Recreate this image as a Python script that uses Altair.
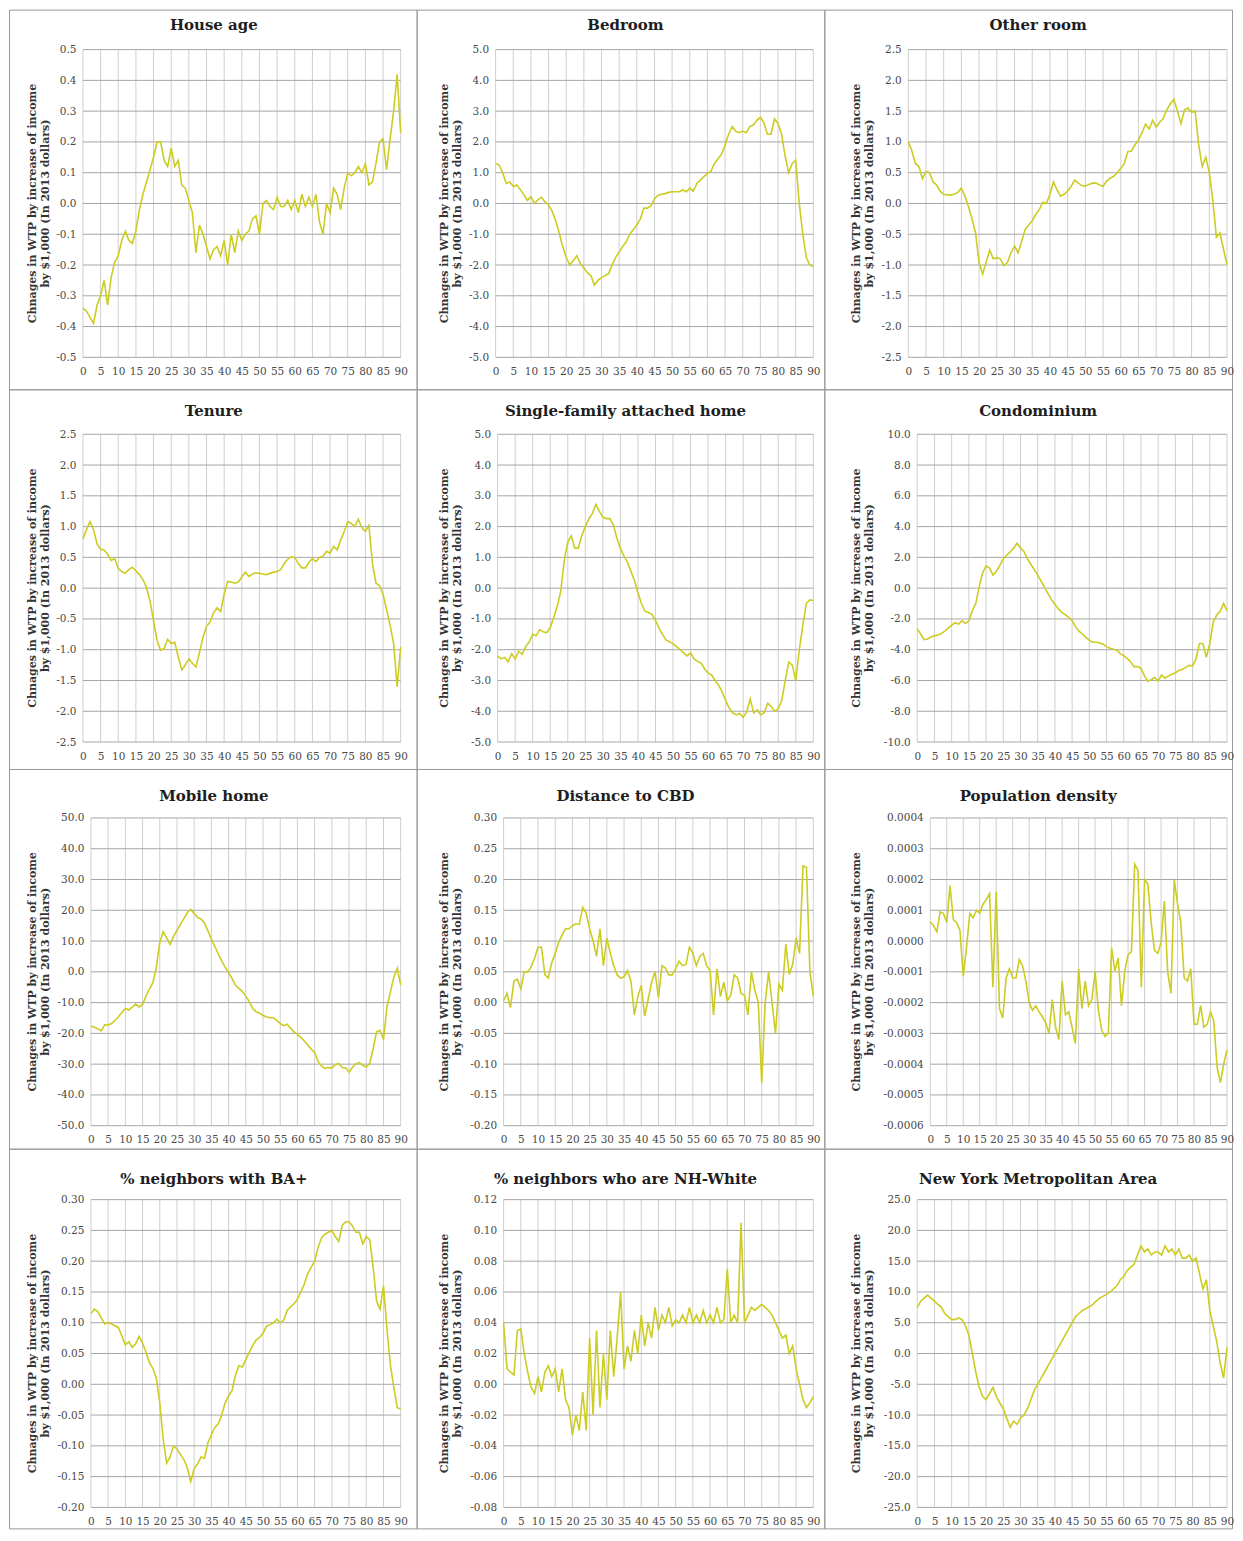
import altair as alt
import pandas as pd

# ---------------- data ----------------
X = list(range(0, 91))
X_TICKS = list(range(0, 91, 5))

TITLES = [
    "House age", "Bedroom", "Other room",
    "Tenure", "Single-family attached home", "Condominium",
    "Mobile home", "Distance to CBD", "Population density",
    "% neighbors with BA+", "% neighbors who are NH-White", "New York Metropolitan Area",
]

Y_TITLE = ["Chnages in WTP by increase of income", "by $1,000  (In 2013 dollars)"]

house_age = [-0.34, -0.35, -0.37, -0.39, -0.33, -0.30, -0.25, -0.33, -0.24, -0.19,
             -0.17, -0.12, -0.09, -0.12, -0.13, -0.09, -0.02, 0.03, 0.07, 0.11,
             0.15, 0.20, 0.20, 0.14, 0.12, 0.18, 0.12, 0.14, 0.06, 0.05,
             0.01, -0.03, -0.16, -0.07, -0.10, -0.14, -0.18, -0.15, -0.14, -0.17,
             -0.12, -0.20, -0.10, -0.16, -0.09, -0.12, -0.10, -0.09, -0.05, -0.04,
             -0.10, 0.00, 0.01, -0.01, -0.02, 0.02, -0.01, -0.01, 0.01, -0.02,
             0.01, -0.03, 0.03, -0.01, 0.02, -0.01, 0.03, -0.06, -0.10, 0.00,
             -0.03, 0.05, 0.03, -0.02, 0.05, 0.10, 0.09, 0.10, 0.12, 0.10,
             0.13, 0.06, 0.07, 0.13, 0.20, 0.21, 0.11, 0.21, 0.30, 0.42, 0.23]

bedroom = [1.30, 1.25, 1.00, 0.65, 0.70, 0.55, 0.60, 0.45, 0.28, 0.10,
           0.22, 0.00, 0.12, 0.20, 0.05, -0.05, -0.25, -0.55, -0.95, -1.40,
           -1.75, -2.00, -1.85, -1.70, -1.95, -2.10, -2.25, -2.35, -2.65, -2.50,
           -2.40, -2.35, -2.28, -2.00, -1.75, -1.58, -1.40, -1.25, -1.00, -0.85,
           -0.70, -0.50, -0.15, -0.15, -0.08, 0.15, 0.27, 0.30, 0.32, 0.36,
           0.38, 0.38, 0.38, 0.44, 0.38, 0.50, 0.40, 0.65, 0.76, 0.87,
           0.98, 1.05, 1.30, 1.45, 1.60, 1.90, 2.25, 2.50, 2.35, 2.30,
           2.35, 2.30, 2.50, 2.55, 2.70, 2.80, 2.62, 2.25, 2.25, 2.75,
           2.60, 2.25, 1.55, 1.00, 1.30, 1.40, 0.00, -1.00, -1.75, -2.00, -2.05]

other_room = [1.00, 0.86, 0.65, 0.60, 0.40, 0.52, 0.50, 0.35, 0.30, 0.20,
              0.15, 0.14, 0.14, 0.15, 0.18, 0.25, 0.12, -0.05, -0.25, -0.48,
              -0.96, -1.15, -0.95, -0.76, -0.90, -0.88, -0.90, -1.01, -0.96, -0.80,
              -0.69, -0.80, -0.62, -0.42, -0.35, -0.28, -0.18, -0.10, 0.02, 0.00,
              0.15, 0.35, 0.22, 0.12, 0.15, 0.20, 0.28, 0.38, 0.33, 0.29,
              0.28, 0.31, 0.33, 0.33, 0.30, 0.28, 0.36, 0.41, 0.44, 0.50,
              0.57, 0.65, 0.84, 0.85, 0.95, 1.03, 1.15, 1.29, 1.21, 1.35,
              1.24, 1.32, 1.38, 1.52, 1.62, 1.69, 1.50, 1.30, 1.52, 1.55,
              1.48, 1.50, 0.95, 0.60, 0.75, 0.50, 0.05, -0.55, -0.48, -0.74, -1.00]

tenure = [0.80, 0.95, 1.08, 0.95, 0.72, 0.63, 0.62, 0.55, 0.45, 0.48,
          0.32, 0.27, 0.24, 0.30, 0.34, 0.28, 0.22, 0.14, 0.01, -0.21,
          -0.53, -0.85, -1.01, -0.98, -0.83, -0.90, -0.88, -1.12, -1.33, -1.25,
          -1.15, -1.22, -1.28, -1.05, -0.80, -0.62, -0.55, -0.40, -0.32, -0.38,
          -0.10, 0.11, 0.10, 0.08, 0.10, 0.18, 0.26, 0.19, 0.23, 0.25,
          0.24, 0.23, 0.22, 0.24, 0.26, 0.27, 0.30, 0.40, 0.47, 0.51,
          0.50, 0.40, 0.33, 0.33, 0.42, 0.48, 0.43, 0.50, 0.52, 0.60,
          0.57, 0.68, 0.62, 0.78, 0.92, 1.08, 1.05, 1.00, 1.12, 0.98,
          0.92, 1.02, 0.40, 0.08, 0.04, -0.10, -0.35, -0.60, -0.90, -1.60, -0.96]

sfa_home = [-2.20, -2.30, -2.25, -2.40, -2.13, -2.30, -2.05, -2.15, -1.90, -1.75,
            -1.50, -1.55, -1.35, -1.42, -1.45, -1.28, -0.95, -0.60, -0.10, 0.90,
            1.50, 1.70, 1.30, 1.30, 1.72, 2.00, 2.25, 2.42, 2.72, 2.50,
            2.30, 2.26, 2.26, 2.05, 1.62, 1.30, 1.05, 0.85, 0.55, 0.25,
            -0.15, -0.50, -0.75, -0.79, -0.85, -1.05, -1.30, -1.50, -1.68, -1.74,
            -1.80, -1.90, -2.00, -2.10, -2.20, -2.10, -2.30, -2.38, -2.43, -2.62,
            -2.76, -2.82, -3.00, -3.15, -3.37, -3.65, -3.90, -4.05, -4.12, -4.07,
            -4.20, -4.02, -3.60, -4.06, -3.96, -4.12, -4.05, -3.74, -3.85, -4.00,
            -3.92, -3.65, -3.00, -2.40, -2.50, -3.00, -2.00, -1.20, -0.50, -0.38, -0.40]

condominium = [-2.66, -2.98, -3.35, -3.30, -3.18, -3.10, -3.05, -2.95, -2.80, -2.60,
               -2.40, -2.25, -2.34, -2.12, -2.30, -2.12, -1.45, -1.00, 0.10, 1.00,
               1.45, 1.30, 0.85, 1.10, 1.48, 1.90, 2.15, 2.35, 2.60, 2.92,
               2.60, 2.38, 1.90, 1.55, 1.20, 0.85, 0.45, 0.05, -0.35, -0.75,
               -1.05, -1.35, -1.58, -1.72, -1.90, -2.12, -2.50, -2.80, -2.98, -3.20,
               -3.40, -3.52, -3.52, -3.57, -3.65, -3.80, -3.90, -3.97, -4.03, -4.25,
               -4.40, -4.57, -4.80, -5.10, -5.10, -5.20, -5.70, -6.05, -5.95, -5.80,
               -6.05, -5.65, -5.85, -5.70, -5.60, -5.50, -5.35, -5.28, -5.15, -5.02,
               -5.05, -4.60, -3.60, -3.60, -4.50, -3.60, -2.20, -1.75, -1.50, -1.00, -1.48]

mobile_home = [-17.6, -18.0, -18.5, -19.2, -17.2, -17.3, -16.8, -15.8, -14.6, -13.2,
               -11.9, -12.4, -11.5, -10.5, -11.4, -10.6, -7.9, -5.5, -3.5, 1.5,
               9.5, 13.0, 11.0, 8.9, 11.5, 13.5, 15.5, 17.3, 19.2, 20.3,
               19.0, 17.6, 17.2, 15.8, 13.3, 10.6, 8.3, 5.8, 3.5, 1.5,
               -0.3, -2.1, -4.4, -5.4, -6.4, -7.9, -9.7, -11.9, -13.0, -13.4,
               -14.2, -14.6, -14.9, -14.9, -15.8, -16.8, -17.5, -17.0, -18.3, -19.5,
               -20.3, -21.3, -22.5, -23.8, -25.1, -26.2, -29.1, -30.6, -31.4, -31.1,
               -31.3, -30.2, -29.8, -31.1, -31.2, -32.6, -31.0, -29.9, -29.5, -30.4,
               -30.9, -29.8, -25.0, -19.5, -19.0, -22.0, -11.5, -6.6, -1.8, 1.2, -4.2]

distance_cbd = [0.003, 0.015, -0.008, 0.035, 0.038, 0.022, 0.050, 0.050, 0.058, 0.072,
                0.090, 0.090, 0.045, 0.040, 0.065, 0.080, 0.098, 0.110, 0.120, 0.120,
                0.125, 0.128, 0.127, 0.155, 0.145, 0.120, 0.100, 0.075, 0.120, 0.060,
                0.105, 0.080, 0.060, 0.045, 0.040, 0.042, 0.052, 0.035, -0.020, 0.010,
                0.028, -0.022, 0.005, 0.033, 0.050, 0.008, 0.060, 0.056, 0.045, 0.045,
                0.055, 0.067, 0.060, 0.062, 0.090, 0.080, 0.060, 0.075, 0.080, 0.060,
                0.052, -0.020, 0.055, 0.010, 0.033, 0.003, 0.012, 0.045, 0.040, 0.015,
                0.012, -0.020, 0.050, 0.020, 0.000, -0.130, 0.000, 0.050, 0.000, -0.050,
                0.030, 0.020, 0.095, 0.046, 0.062, 0.105, 0.080, 0.222, 0.220, 0.050, 0.010]

population_density = [0.000063, 0.000050, 0.000030, 0.000095, 0.000090, 0.000060, 0.000180, 0.000070, 0.000060, 0.000035,
                      -0.000115, -0.000020, 0.000090, 0.000075, 0.000100, 0.000090, 0.000120, 0.000135, 0.000154, -0.000150,
                      0.000160, -0.000220, -0.000250, -0.000120, -0.000090, -0.000120, -0.000120, -0.000060, -0.000080, -0.000130,
                      -0.000200, -0.000225, -0.000210, -0.000230, -0.000245, -0.000265, -0.000300, -0.000190, -0.000280, -0.000320,
                      -0.000130, -0.000240, -0.000230, -0.000280, -0.000333, -0.000090, -0.000220, -0.000130, -0.000210, -0.000190,
                      -0.000100, -0.000226, -0.000290, -0.000310, -0.000300, -0.000022, -0.000097, -0.000055, -0.000210, -0.000097,
                      -0.000044, -0.000035, 0.000250, 0.000230, -0.000150, 0.000200, 0.000185, 0.000060, -0.000030, -0.000040,
                      -0.000005, 0.000130, -0.000100, -0.000170, 0.000200, 0.000120, 0.000060, -0.000120, -0.000130, -0.000090,
                      -0.000270, -0.000270, -0.000210, -0.000280, -0.000270, -0.000230, -0.000260, -0.000410, -0.000460, -0.000400, -0.000354]

neighbors_ba = [0.115, 0.122, 0.118, 0.108, 0.098, 0.100, 0.098, 0.095, 0.092, 0.078,
                0.064, 0.069, 0.060, 0.066, 0.078, 0.067, 0.052, 0.035, 0.026, 0.010,
                -0.030, -0.090, -0.128, -0.118, -0.100, -0.105, -0.114, -0.122, -0.136, -0.158,
                -0.137, -0.129, -0.118, -0.120, -0.095, -0.082, -0.070, -0.064, -0.050, -0.030,
                -0.019, -0.010, 0.015, 0.030, 0.028, 0.040, 0.052, 0.063, 0.072, 0.076,
                0.083, 0.094, 0.097, 0.100, 0.106, 0.100, 0.104, 0.120, 0.126, 0.131,
                0.138, 0.150, 0.163, 0.180, 0.190, 0.200, 0.222, 0.238, 0.244, 0.247,
                0.250, 0.240, 0.232, 0.258, 0.264, 0.264, 0.257, 0.247, 0.247, 0.228,
                0.240, 0.235, 0.190, 0.135, 0.122, 0.160, 0.090, 0.032, -0.005, -0.038, -0.040]

neighbors_white = [0.040, 0.010, 0.008, 0.006, 0.035, 0.036, 0.020, 0.008, -0.002, -0.006,
                   0.005, -0.005, 0.008, 0.012, 0.005, 0.010, -0.005, 0.010, -0.010, -0.015,
                   -0.033, -0.020, -0.030, -0.005, -0.030, 0.030, -0.020, 0.035, -0.015, 0.020,
                   -0.010, 0.035, 0.005, 0.030, 0.060, 0.010, 0.025, 0.015, 0.035, 0.020,
                   0.045, 0.025, 0.040, 0.030, 0.050, 0.035, 0.045, 0.040, 0.050, 0.038,
                   0.042, 0.040, 0.045, 0.040, 0.050, 0.040, 0.045, 0.040, 0.048, 0.040,
                   0.045, 0.040, 0.050, 0.040, 0.042, 0.075, 0.040, 0.045, 0.040, 0.105,
                   0.040, 0.045, 0.050, 0.048, 0.050, 0.052, 0.050, 0.048, 0.045, 0.040,
                   0.035, 0.030, 0.032, 0.020, 0.025, 0.010, 0.000, -0.010, -0.015, -0.012, -0.008]

new_york = [7.5, 8.5, 9.0, 9.5, 9.0, 8.5, 8.0, 7.5, 6.5, 6.0,
            5.5, 5.5, 5.8, 5.5, 4.5, 3.0, 0.0, -3.0, -5.5, -7.0,
            -7.5, -6.5, -5.5, -7.0, -8.0, -9.0, -10.5, -12.0, -11.0, -11.5,
            -10.5, -10.0, -9.0, -7.5, -6.0, -5.0, -4.0, -3.0, -2.0, -1.0,
            0.0, 1.0, 2.0, 3.0, 4.0, 5.0, 6.0, 6.5, 7.0, 7.3,
            7.6, 8.0, 8.5, 9.0, 9.3, 9.6, 10.0, 10.5, 11.0, 12.0,
            12.5, 13.5, 14.0, 14.5, 16.0, 17.5, 16.5, 17.0, 16.0, 16.5,
            16.5, 16.0, 17.5, 16.5, 17.0, 16.0, 17.0, 15.5, 15.5, 16.0,
            15.0, 15.5, 13.0, 10.5, 12.0, 7.0, 4.5, 2.0, -1.5, -4.0, 1.0]

SERIES = [house_age, bedroom, other_room,
          tenure, sfa_home, condominium,
          mobile_home, distance_cbd, population_density,
          neighbors_ba, neighbors_white, new_york]

# y-axis ranges: (min, max, step, format)
Y_RANGES = [(-0.5, 0.5, 0.1, ".1f"), (-5, 5, 1, ".1f"), (-2.5, 2.5, 0.5, ".1f"),
            (-2.5, 2.5, 0.5, ".1f"), (-5, 5, 1, ".1f"), (-10, 10, 2, ".1f"),
            (-50, 50, 10, ".1f"), (-0.2, 0.3, 0.05, ".2f"), (-0.0006, 0.0004, 0.0001, ".4f"),
            (-0.2, 0.3, 0.05, ".2f"), (-0.08, 0.12, 0.02, ".2f"), (-25, 25, 5, ".1f")]

# ---------------- layout (pixels inside each panel) ----------------
CELL_W, CELL_H = 408, 380
PH = 308
LEFT = [[74, 79, 84], [74, 81, 93], [82, 87, 106], [82, 87, 93]]   # plot left
RIGHT = [392, 397, 403]                                           # plot right
TOP = [40, 45, 49, 51]                                            # plot top
TITLE_Y = [15, 22, 27, 30]
TITLE_X = [205, 209, 214]
YTITLE_X = [29, 33, 38]

SERIF = "DejaVu Serif"
LINE_COLOR = "#cccc22"
GRID_H = "#a6a6a6"
GRID_V = "#cfcfcf"
BORDER = "#9a9a9a"
TEXT = "#474747"


def panel(i):
    row, col = divmod(i, 3)
    L, R, T = LEFT[row][col], RIGHT[col], TOP[row]
    lo, hi, step, fmt = Y_RANGES[i]
    n = int(round((hi - lo) / step))
    yticks = [round(lo + k * step, 6) for k in range(n + 1)]

    xscale = alt.Scale(domain=[0, 90], range=[L, R], nice=False, zero=False)
    yscale = alt.Scale(domain=[lo, hi], range=[T + PH, T], nice=False, zero=False)
    xaxis = alt.Axis(values=X_TICKS, title=None, grid=False, domain=False, ticks=False,
                     offset=-(CELL_H - T - PH), labelPadding=9, labelFont=SERIF,
                     labelFontSize=10.5, labelColor=TEXT, labelFlush=False, labelOverlap=False)
    yaxis = alt.Axis(values=yticks, grid=False, domain=False, ticks=False, offset=-L,
                     labelExpr="replace(format(datum.value, '%s'), '\u2212', '-')" % fmt,
                     labelPadding=7, labelFont=SERIF, labelFontSize=10.5, labelColor=TEXT,
                     labelFlush=False, labelOverlap=False, title=None)

    vgrid = alt.Chart(pd.DataFrame({"x": X_TICKS})).mark_rule(
        color=GRID_V, strokeWidth=1
    ).encode(x=alt.X("x:Q", scale=xscale, axis=xaxis),
             y=alt.value(T), y2=alt.value(T + PH))

    hgrid = alt.Chart(pd.DataFrame({"y": yticks})).mark_rule(
        color=GRID_H, strokeWidth=1
    ).encode(y=alt.Y("y:Q", scale=yscale, axis=yaxis),
             x=alt.value(L), x2=alt.value(R))

    line = alt.Chart(pd.DataFrame({"x": X, "y": SERIES[i]})).mark_line(
        color=LINE_COLOR, strokeWidth=1.6
    ).encode(x=alt.X("x:Q", scale=xscale, axis=xaxis),
             y=alt.Y("y:Q", scale=yscale, axis=yaxis))

    one = pd.DataFrame({"k": [0]})
    title = alt.Chart(one).mark_text(
        font=SERIF, fontSize=15, fontWeight="bold", color="#1e1e1e",
        align="center", baseline="middle"
    ).encode(text=alt.value(TITLES[i]), x=alt.value(TITLE_X[col]), y=alt.value(TITLE_Y[row]))

    ytitle = alt.Chart(one).mark_text(
        font=SERIF, fontSize=11, fontWeight="bold", color="#333333",
        align="center", baseline="bottom", angle=270, lineHeight=13
    ).encode(text=alt.value(Y_TITLE), x=alt.value(YTITLE_X[col]), y=alt.value(T + PH / 2))

    return alt.layer(vgrid, hgrid, line, title, ytitle).properties(width=CELL_W, height=CELL_H)


chart = alt.concat(*[panel(i) for i in range(12)], columns=3, spacing=0,
                   bounds="flush").properties(
    padding=0, background="white"
).configure_view(stroke=BORDER, strokeWidth=1)

chart.save("out.html", embed_options={"renderer": "svg", "actions": False})
